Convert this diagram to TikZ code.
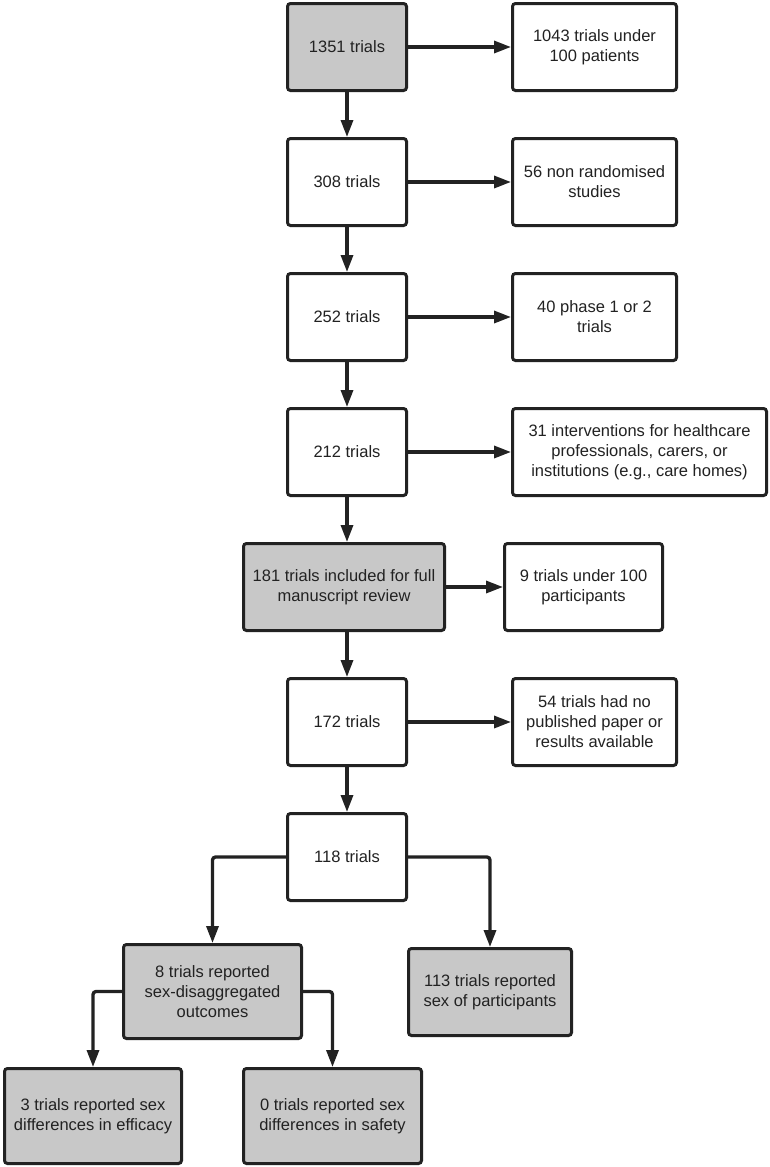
\documentclass[tikz,border=0pt]{standalone}
\usepackage{fontspec}
\setmainfont{Liberation Sans}
\usetikzlibrary{arrows.meta}
\definecolor{ink}{HTML}{222222}
\definecolor{boxgray}{HTML}{C8C8C8}
\begin{document}
\begin{tikzpicture}[x=1pt,y=-1pt,
  box/.style={draw=ink,line width=3pt,rounded corners=3pt,fill=white,align=center,
    inner sep=0pt,text=ink,font=\fontsize{16.5}{20}\selectfont},
  gbox/.style={box,fill=boxgray},
  arr/.style={draw=ink,line width=3.3pt,-{Triangle[length=17pt,width=12pt]}}]
\useasboundingbox (0,0) rectangle (769,1167);
\fill[white] (0,0) rectangle (769,1167);
% main column
\node[gbox,minimum width=119,minimum height=87] (A) at (347,47) {1351 trials};
\node[box,minimum width=164,minimum height=87] (B) at (594.5,47) {1043 trials under\\100 patients};
\node[box,minimum width=119,minimum height=87] (C) at (347,182) {308 trials};
\node[box,minimum width=164,minimum height=87] (D) at (594.5,182) {56 non randomised\\studies};
\node[box,minimum width=119,minimum height=87] (E) at (347,317) {252 trials};
\node[box,minimum width=164,minimum height=87] (F) at (594.5,317) {40 phase 1 or 2\\trials};
\node[box,minimum width=119,minimum height=87] (G) at (347,452) {212 trials};
\node[box,minimum width=254,minimum height=87] (H) at (639.5,452) {31 interventions for healthcare\\professionals, carers, or\\institutions (e.g., care homes)};
\node[gbox,minimum width=201,minimum height=87] (I) at (344,587) {181 trials included for full\\manuscript review};
\node[box,minimum width=158,minimum height=87] (J) at (583.5,587) {9 trials under 100\\participants};
\node[box,minimum width=119,minimum height=87] (K) at (347,722) {172 trials};
\node[box,minimum width=164,minimum height=87] (L) at (594.5,722) {54 trials had no\\published paper or\\results available};
\node[box,minimum width=119,minimum height=87] (M) at (347,857) {118 trials};
\node[gbox,minimum width=178,minimum height=94] (N) at (212.5,991.5) {8 trials reported\\sex-disaggregated\\outcomes};
\node[gbox,minimum width=163,minimum height=87] (O) at (490,992) {113 trials reported\\sex of participants};
\node[gbox,minimum width=177,minimum height=95] (P) at (93,1116) {3 trials reported sex\\differences in efficacy};
\node[gbox,minimum width=178,minimum height=95] (Q) at (332.5,1116) {0 trials reported sex\\differences in safety};
% horizontal exclusions
\draw[arr] (A.east) -- (B.west);
\draw[arr] (C.east) -- (D.west);
\draw[arr] (E.east) -- (F.west);
\draw[arr] (G.east) -- (H.west);
\draw[arr] (I.east) -- (J.west);
\draw[arr] (K.east) -- (L.west);
% vertical flow
\draw[arr] (A.south) -- (C.north);
\draw[arr] (C.south) -- (E.north);
\draw[arr] (E.south) -- (G.north);
\draw[arr] (G.south) -- (G.south |- I.north);
\draw[arr] (I.south -| K.north) -- (K.north);
\draw[arr] (K.south) -- (M.north);
% branches
\draw[arr,rounded corners=3pt] (M.west) -| (N.north);
\draw[arr,rounded corners=3pt] (M.east) -| (O.north);
\draw[arr,rounded corners=3pt] (N.west) -| (P.north);
\draw[arr,rounded corners=3pt] (N.east) -| (Q.north);
\end{tikzpicture}
\end{document}
